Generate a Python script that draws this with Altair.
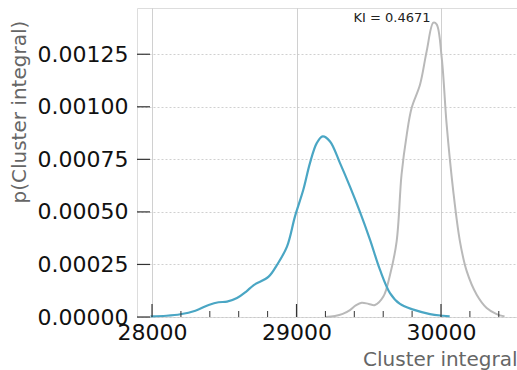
import altair as alt
import pandas as pd

# Blue KDE
blue_x = [27990, 28100, 28196, 28300, 28392, 28460, 28519, 28588, 28650, 28704,
          28807, 28865, 28934, 28990, 29047, 29093, 29140, 29181, 29232, 29301,
          29370, 29439, 29509, 29578, 29647, 29716, 29809, 29924, 30014, 30060]
blue_y = [0.000003, 0.000006, 0.000013, 0.00003, 0.000057, 0.00007, 0.000073, 0.00009,
          0.00012, 0.000152, 0.000192, 0.000248, 0.000335, 0.00048, 0.000605, 0.000732,
          0.000827, 0.000859, 0.000835, 0.000732, 0.00062, 0.0005, 0.000367, 0.000224,
          0.000114, 0.000062, 0.000035, 0.000014, 0.000006, 0.000003]

# Gray KDE
gray_x = [29200, 29266, 29320, 29370, 29410, 29451, 29500, 29543, 29601, 29647,
          29693, 29727, 29763, 29797, 29855, 29901, 29947, 29970, 30005, 30039,
          30085, 30131, 30178, 30247, 30316, 30385, 30440]
gray_y = [0.0, 0.000005, 0.000015, 0.000033, 0.000055, 0.000068, 0.000062, 0.000057,
          0.000097, 0.0002, 0.00036, 0.000678, 0.000868, 0.000995, 0.001106, 0.001265,
          0.0014, 0.001392, 0.001233, 0.000916, 0.000598, 0.00036, 0.000218, 0.000106,
          0.000043, 0.000014, 0.000003]

x_major = [28000, 29000, 30000]
x_minor = [28200, 28400, 28600, 28800, 29200, 29400, 29600, 29800, 30200, 30400]
y_major = [0.0, 0.00025, 0.0005, 0.00075, 0.001, 0.00125]

label_text = ["KI = 0.4671"]
label_x = [29661]
label_y = [0.001424]

X_DOMAIN = [27896, 30526]
Y_DOMAIN = [0, 0.00147]

blue_df = pd.DataFrame({"x": blue_x, "y": blue_y})
gray_df = pd.DataFrame({"x": gray_x, "y": gray_y})
xmaj_df = pd.DataFrame({"x": x_major})
xmin_df = pd.DataFrame({"x": x_minor})
ymaj_df = pd.DataFrame({"y": y_major})
lab_df = pd.DataFrame({"t": label_text, "x": label_x, "y": label_y})

xscale = alt.Scale(domain=X_DOMAIN, nice=False, zero=False)
yscale = alt.Scale(domain=Y_DOMAIN, nice=False)

xaxis = alt.Axis(values=x_major, format="d", title="Cluster integral",
                 labelFontSize=22, labelColor="#111111", labelFont="DejaVu Sans",
                 labelPadding=5, labelFlush=False, labelOverlap=False,
                 ticks=False, domain=False, grid=True, gridColor="#c4c4c4",
                 gridWidth=0.8,
                 titleFont="DejaVu Sans", titleFontSize=20, titleColor="#666666",
                 titleFontWeight="normal", titleAlign="right", titleAnchor="end",
                 titleX=380, titleY=48, titleBaseline="alphabetic")
yaxis = alt.Axis(values=y_major, format=".5f", title="p(Cluster integral)",
                 labelFontSize=22, labelColor="#111111", labelFont="DejaVu Sans",
                 labelPadding=9, labelFlush=False, labelOverlap=False,
                 ticks=False, domain=False, grid=True, gridColor="#c4c4c4",
                 gridDash=[2, 2], gridWidth=0.8,
                 titleFont="DejaVu Sans", titleFontSize=20, titleColor="#666666",
                 titleFontWeight="normal", titleAngle=270, titleAlign="left",
                 titleBaseline="middle", titleX=-118, titleY=195)

base_x = alt.X("x:Q", scale=xscale, axis=xaxis)
base_y = alt.Y("y:Q", scale=yscale, axis=yaxis)

blue = alt.Chart(blue_df).mark_line(color="#4aa6c4", strokeWidth=2.2,
                                    interpolate="catmull-rom").encode(x=base_x, y=base_y)
gray = alt.Chart(gray_df).mark_line(color="#b9b9b9", strokeWidth=2,
                                    interpolate="catmull-rom").encode(
    x=alt.X("x:Q", scale=xscale), y=alt.Y("y:Q", scale=yscale))

xmaj = alt.Chart(xmaj_df).mark_rule(color="#333333", strokeWidth=1.2).encode(
    x=alt.X("x:Q", scale=xscale), y=alt.value(309), y2=alt.value(296))
xmin = alt.Chart(xmin_df).mark_rule(color="#333333", strokeWidth=1).encode(
    x=alt.X("x:Q", scale=xscale), y=alt.value(309), y2=alt.value(303))
ymaj = alt.Chart(ymaj_df).mark_rule(color="#333333", strokeWidth=1.2).encode(
    y=alt.Y("y:Q", scale=yscale), x=alt.value(0), x2=alt.value(13))

label = alt.Chart(lab_df).mark_text(fontSize=13, color="#222222", font="DejaVu Sans",
                                    align="center", baseline="middle").encode(
    x=alt.X("x:Q", scale=xscale), y=alt.Y("y:Q", scale=yscale), text="t:N")

chart = alt.layer(gray, blue, xmaj, xmin, ymaj, label).properties(
    width=380, height=309,
    autosize=alt.AutoSizeParams(type="none"),
    padding={"left": 137, "top": 8, "right": 0, "bottom": 53},
).configure_view(fill="#e5e5e5", strokeWidth=0).configure(background="white")

chart.save("out.html", embed_options={"renderer": "svg", "actions": False})
